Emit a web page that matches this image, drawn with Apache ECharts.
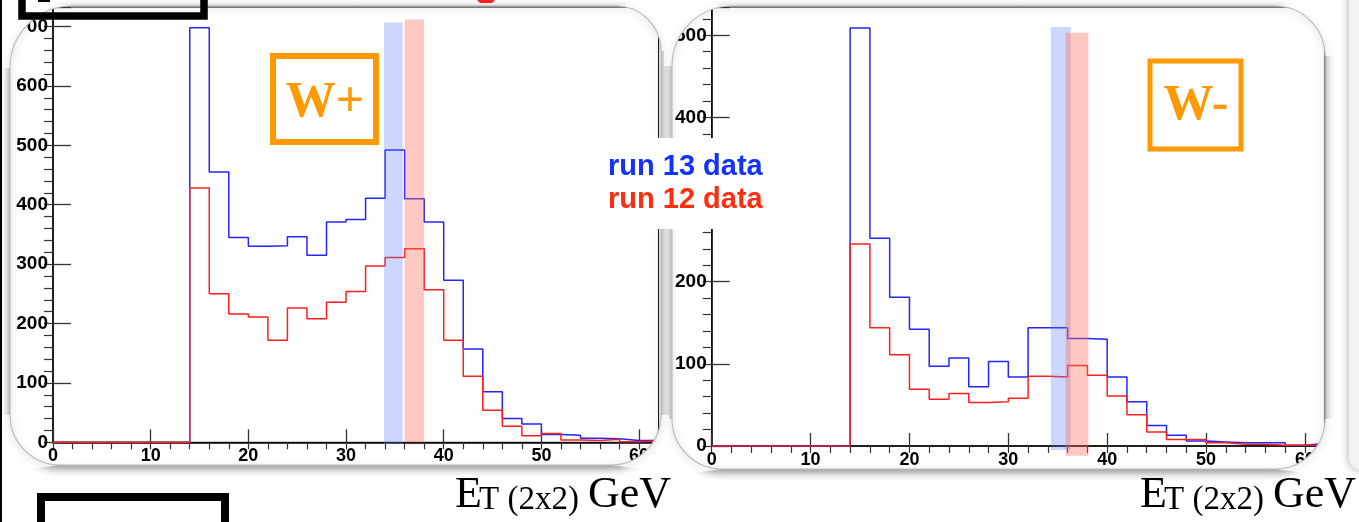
<!DOCTYPE html>
<html>
<head>
<meta charset="utf-8">
<script src="https://cdn.jsdelivr.net/npm/echarts@6/dist/echarts.min.js"></script>
<style>
  html, body { margin: 0; padding: 0; background: #fff; }
  #chart { width: 1359px; height: 522px; }
</style>
</head>
<body>
<div id="chart"></div>
<script>
// Lower edges of the 2 GeV bins; the last bin ends at binTop
const binEdges = [0, 2, 4, 6, 8, 10, 12, 14, 16, 18, 20, 22, 24, 26, 28, 30,
                  32, 34, 36, 38, 40, 42, 44, 46, 48, 50, 52, 54, 56, 58, 60];
const binTop = 62;

// W+ candidates, counts per bin
const wPlusRun13 = [0, 0, 0, 0, 0, 0, 0, 698, 455, 345, 330, 331, 346, 315, 371, 375,
                    411, 492, 410, 371, 273, 157, 85, 40, 31, 13, 12, 7, 6, 3, 3];
const wPlusRun12 = [0, 0, 0, 0, 0, 0, 0, 428, 250, 216, 211, 172, 226, 208, 236, 254,
                    297, 311, 326, 257, 172, 111, 54, 27, 11, 15, 4, 3, 5, 1, 2];

// W- candidates, counts per bin
const wMinusRun13 = [0, 0, 0, 0, 0, 0, 0, 509, 253, 181, 142, 97, 107, 72, 103, 84,
                     144, 144, 131, 130, 84, 54, 25, 13, 6, 5, 4, 4, 4, 1, 3];
const wMinusRun12 = [0, 0, 0, 0, 0, 0, 0, 246, 144, 111, 69, 57, 64, 53, 54, 58,
                     85, 84, 98, 86, 61, 38, 17, 8, 8, 4, 2, 2, 1, 1, 1];

// Peak windows [from, to, low, high] in GeV / counts
const wPlusPeak13 = [33.9, 35.8, -3, 707];
const wPlusPeak12 = [36.0, 38.0, 0, 712];
const wMinusPeak13 = [34.3, 36.3, -5, 510];
const wMinusPeak12 = [35.8, 38.1, -12, 503];

// Tick labels
const xTickLabels = [0, 10, 20, 30, 40, 50, 60];
const wPlusYLabels = [0, 100, 200, 300, 400, 500, 600, 700];
const wMinusYLabels = [0, 100, 200, 300, 400, 500];

const BLUE = '#2424ff';
const RED = '#ff1f1f';
const TICK_FONT = '"Liberation Sans", Arial, Helvetica, sans-serif';
const SERIF = '"Liberation Serif", "Times New Roman", serif';

function steps(vals) {
  const pts = binEdges.map((e, i) => [e, vals[i]]);
  pts.push([binTop, vals[vals.length - 1]]);
  return pts;
}

function xMain(g) {
  return {
    type: 'value', gridIndex: g, min: 0, max: binTop, interval: 10,
    axisLine: { onZero: false, lineStyle: { color: '#000', width: 1.5 } },
    axisTick: { inside: true, length: 13, lineStyle: { color: '#333', width: 1.3 } },
    axisLabel: {
      margin: 5, color: '#000', fontFamily: TICK_FONT, fontWeight: 'bold', fontSize: 18,
      formatter: v => (xTickLabels.includes(v) ? String(v) : '')
    },
    splitLine: { show: false }
  };
}
function xMinor(g) {
  return {
    type: 'value', gridIndex: g, min: 0, max: binTop, interval: 2,
    axisLine: { show: false },
    axisTick: { inside: true, length: 7, lineStyle: { color: '#333', width: 1.2 } },
    axisLabel: { show: false }, splitLine: { show: false }
  };
}
function yMain(g, max, labels) {
  return {
    type: 'value', gridIndex: g, min: 0, max: max, interval: 100,
    axisLine: { onZero: false, lineStyle: { color: '#000', width: 1.5 } },
    axisTick: { inside: true, length: 18, lineStyle: { color: '#333', width: 1.3 } },
    axisLabel: {
      margin: 5, color: '#000', fontFamily: TICK_FONT, fontWeight: 'bold', fontSize: 19,
      formatter: v => (labels.includes(v) ? String(v) : '')
    },
    splitLine: { show: false }
  };
}
function yMinor(g, max) {
  return {
    type: 'value', gridIndex: g, min: 0, max: max, interval: 20,
    axisLine: { show: false },
    axisTick: { inside: true, length: 9, lineStyle: { color: '#333', width: 1.2 } },
    axisLabel: { show: false }, splitLine: { show: false }
  };
}

function histo(name, vals, color, xi, yi) {
  return {
    name, type: 'line', xAxisIndex: xi, yAxisIndex: yi, data: steps(vals),
    step: 'end', symbol: 'none', z: 3,
    lineStyle: { color, width: 1.5 }
  };
}
function peak(win, fill, xi, yi, z) {
  return {
    type: 'custom', xAxisIndex: xi, yAxisIndex: yi, z, clip: false,
    data: [win], encode: { x: [0, 1], y: [2, 3] },
    renderItem(params, api) {
      const a = api.coord([api.value(0), api.value(3)]);
      const b = api.coord([api.value(1), api.value(2)]);
      return { type: 'rect', shape: { x: a[0], y: a[1], width: b[0] - a[0], height: b[1] - a[1] },
               style: { fill } };
    }
  };
}

// Rounded card frames: white card, corner masks and a soft outline
function arcPts(cx, cy, r, a0, a1) {
  const pts = [];
  for (let i = 0; i <= 24; i++) {
    const a = a0 + (a1 - a0) * i / 24;
    pts.push([cx + r * Math.cos(a), cy + r * Math.sin(a)]);
  }
  return pts;
}
// radii: [top-left, top-right, bottom-right, bottom-left]
function cornerMasks(x, y, w, h, rr) {
  const x1 = x + w, y1 = y + h, p = 8, PI = Math.PI;
  const [a, b, c, d] = rr;
  const polys = [
    [[x - p, y - p], ...arcPts(x + a, y + a, a, -PI / 2, -PI), [x - p, y + a]],
    [[x1 + p, y - p], ...arcPts(x1 - b, y + b, b, -PI / 2, 0), [x1 + p, y + b]],
    [[x1 + p, y1 + p], ...arcPts(x1 - c, y1 - c, c, PI / 2, 0), [x1 + p, y1 - c]],
    [[x - p, y1 + p], ...arcPts(x + d, y1 - d, d, PI / 2, PI), [x - p, y1 - d]]
  ];
  return polys.map(points => ({ type: 'polygon', z: 50, silent: true, shape: { points },
                                style: { fill: '#fff' } }));
}
function card(x, y, w, h, rr) {
  return [
    { type: 'rect', z: -10, silent: true, shape: { x, y, width: w, height: h, r: rr },
      style: { fill: '#fff', shadowBlur: 10, shadowOffsetY: 3, shadowColor: 'rgba(0,0,0,0.45)' } },
    ...cornerMasks(x, y, w, h, rr),
    { type: 'rect', z: 51, silent: true, shape: { x, y, width: w, height: h, r: rr },
      style: { fill: 'none', stroke: '#bdbdbd', lineWidth: 1.2,
               shadowBlur: 7, shadowOffsetY: 2, shadowColor: 'rgba(0,0,0,0.35)' } }
  ];
}

function axisTitle(x) {
  const base = { fill: '#000', align: 'left', verticalAlign: 'middle',
                 textAlign: 'left', textVerticalAlign: 'middle' };
  return [
    { type: 'text', z: 80, x: x, y: 495, style: { ...base, text: 'E', font: `44px ${SERIF}` } },
    { type: 'text', z: 80, x: x + 24, y: 500, style: { ...base, text: 'T (2x2)', font: `33px ${SERIF}` } },
    { type: 'text', z: 80, x: x + 133, y: 495, style: { ...base, text: 'GeV', font: `44px ${SERIF}` } }
  ];
}
function chargeTag(label, bx, by, bw, bh, lw, cx, cy) {
  return [
    { type: 'rect', z: 80, shape: { x: bx, y: by, width: bw, height: bh },
      style: { fill: 'none', stroke: '#ff9900', lineWidth: lw } },
    { type: 'text', z: 80, x: cx, y: cy,
      style: { text: label, font: `bold 50px ${SERIF}`, fill: '#ff9900',
               align: 'center', verticalAlign: 'middle', textAlign: 'center', textVerticalAlign: 'middle' } }
  ];
}

const wPlusMax = 1.05 * Math.max(...wPlusRun13);
const wMinusMax = 1.05 * Math.max(...wMinusRun13);

const chart = echarts.init(document.getElementById('chart'), null, { renderer: 'canvas' });
chart.setOption({
  animation: false,
  backgroundColor: '#fff',
  grid: [
    { left: 53, top: 7, width: 605.6, height: 435.3, show: true, borderColor: '#000', borderWidth: 1,
      backgroundColor: 'transparent' },
    { left: 711.7, top: 7, width: 613, height: 439, show: true, borderColor: '#000', borderWidth: 1,
      backgroundColor: 'transparent' }
  ],
  xAxis: [xMain(0), xMinor(0), xMain(1), xMinor(1)],
  yAxis: [yMain(0, wPlusMax, wPlusYLabels), yMinor(0, wPlusMax),
          yMain(1, wMinusMax, wMinusYLabels), yMinor(1, wMinusMax)],
  series: [
    histo('W+ run 13', wPlusRun13, BLUE, 0, 0),
    histo('W+ run 12', wPlusRun12, RED, 0, 0),
    peak(wPlusPeak13, 'rgba(90,120,245,0.30)', 0, 0, 5),
    peak(wPlusPeak12, 'rgba(255,110,90,0.38)', 0, 0, 6),
    histo('W- run 13', wMinusRun13, BLUE, 2, 2),
    histo('W- run 12', wMinusRun12, RED, 2, 2),
    peak(wMinusPeak13, 'rgba(90,120,245,0.30)', 2, 2, 5),
    peak(wMinusPeak12, 'rgba(255,110,90,0.38)', 2, 2, 6)
  ],
  graphic: {
    elements: [
      // neighbouring card at the right border
      { type: 'rect', z: -10, silent: true, shape: { x: 1349, y: -20, width: 60, height: 490, r: 12 },
        style: { fill: '#f3f3f3', shadowBlur: 8, shadowColor: 'rgba(0,0,0,0.35)' } },
      ...card(10, 6, 651, 459, [62, 45, 50, 50]),
      ...card(672, 6, 653, 463, [60, 50, 50, 50]),
      // page edge
      { type: 'rect', z: 90, silent: true, shape: { x: 0, y: 0, width: 2, height: 522 }, style: { fill: '#000' } },
      // legend
      { type: 'rect', z: 60, silent: true, shape: { x: 605, y: 138, width: 166, height: 91 }, style: { fill: '#fff' } },
      { type: 'text', z: 61, x: 608, y: 167,
        style: { text: 'run 13 data', font: `bold 29px ${TICK_FONT}`, fill: '#1432ff',
                 align: 'left', verticalAlign: 'middle', textAlign: 'left', textVerticalAlign: 'middle' } },
      { type: 'text', z: 61, x: 608, y: 200,
        style: { text: 'run 12 data', font: `bold 29px ${TICK_FONT}`, fill: '#ff2d0f',
                 align: 'left', verticalAlign: 'middle', textAlign: 'left', textVerticalAlign: 'middle' } },
      ...chargeTag('W+', 273, 56, 103, 86, 6, 325, 103),
      ...chargeTag('W-', 1150, 61, 91, 88, 5, 1196, 106),
      ...axisTitle(455),
      ...axisTitle(1140),
      // frames around neighbouring items
      { type: 'rect', z: 90, silent: true, shape: { x: 22, y: -20, width: 182, height: 36 },
        style: { fill: 'none', stroke: '#000', lineWidth: 7.5 } },
      { type: 'rect', z: 90, silent: true, shape: { x: 38, y: 0, width: 12, height: 2 }, style: { fill: '#000' } },
      { type: 'rect', z: 90, silent: true, shape: { x: 41, y: 497, width: 184, height: 40 },
        style: { fill: 'none', stroke: '#000', lineWidth: 8 } },
      { type: 'polygon', z: 90, silent: true, shape: { points: [[477, 0], [495, 0], [492, 3], [480, 3]] },
        style: { fill: '#ff2020' } }
    ]
  }
});
</script>
</body>
</html>
